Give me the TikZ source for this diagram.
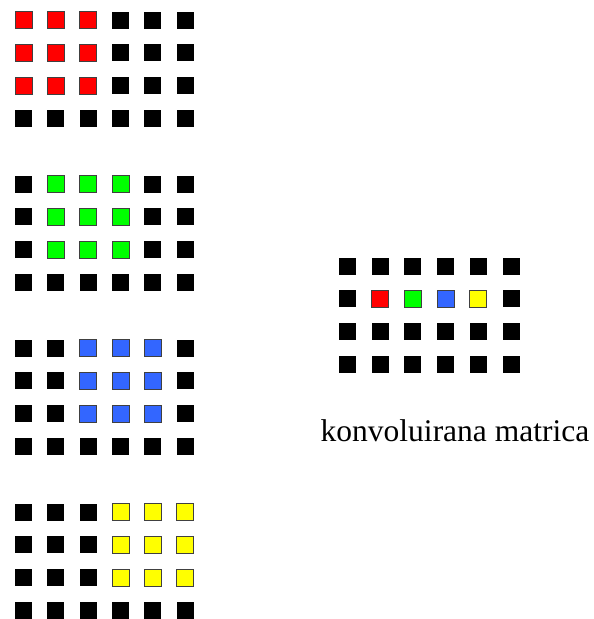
\documentclass[tikz,border=0pt]{standalone}
\usepackage{fontspec}
\setmainfont{Liberation Serif}
\usepackage{tikz}

\definecolor{kred}{RGB}{255,0,0}
\definecolor{kgreen}{RGB}{0,255,0}
\definecolor{kblue}{RGB}{51,102,255}
\definecolor{kyellow}{RGB}{255,255,0}

\begin{document}
\begin{tikzpicture}[x=1pt,y=-1pt,
    sq/.style={minimum size=17pt,inner sep=0pt,outer sep=0pt,fill=black},
    win/.style={draw=black!75,line width=0.8pt}]
  \useasboundingbox (0,0) rectangle (594,619);
  % Quatre matrius d'entrada, cadascuna amb la finestra 3x3 desplacada
  \foreach \g/\col in {0/kred,1/kgreen,2/kblue,3/kyellow}
    \foreach \i in {0,...,3}
      \foreach \j in {0,...,5} {
        \pgfmathtruncatemacro\inwin{(\i<3)&&(\j>=\g)&&(\j<\g+3)}
        \ifnum\inwin=1
          \node[sq,win,fill=\col] (m\g-\i-\j) at ({23.5+32.3*\j},{20+164*\g+32.7*\i}) {};
        \else
          \node[sq] (m\g-\i-\j) at ({23.5+32.3*\j},{20+164*\g+32.7*\i}) {};
        \fi
      }
  % Matriu convolucionada
  \foreach \i in {0,...,3}
    \foreach \j in {0,...,5}
      \node[sq] (k-\i-\j) at ({347.5+32.7*\j},{266+32.7*\i}) {};
  \foreach \j/\col in {1/kred,2/kgreen,3/kblue,4/kyellow}
    \node[sq,win,fill=\col] (r-\j) at (k-1-\j) {};
  \node[anchor=base] (naslov) at (455,441)
    {\fontsize{31.5}{38}\selectfont konvoluirana matrica};
\end{tikzpicture}
\end{document}
